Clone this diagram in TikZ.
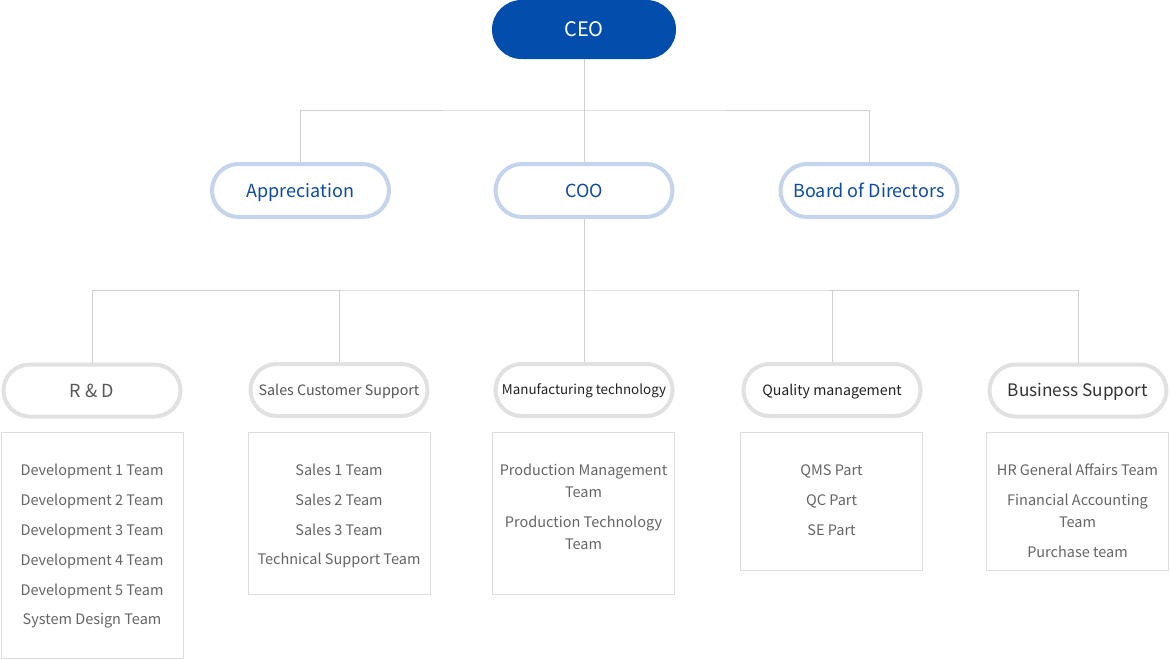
\documentclass[tikz,border=0pt]{standalone}
\usepackage{fontspec}
\setmainfont{Noto Sans CJK KR}
\definecolor{ceoblue}{RGB}{3,77,172}
\definecolor{pillblue}{RGB}{196,212,236}
\definecolor{txtblue}{RGB}{12,74,166}
\definecolor{pillgrey}{RGB}{225,225,225}
\definecolor{boxgrey}{RGB}{221,221,221}
\definecolor{linegrey}{RGB}{208,208,208}
\definecolor{itemgrey}{RGB}{100,100,100}
\begin{document}
\begin{tikzpicture}[x=1pt,y=-1pt,
  ceopill/.style={fill=ceoblue,rounded corners=29.5pt,minimum width=184pt,minimum height=59pt,inner sep=0pt,text=white,font=\fontsize{20}{24}\selectfont,text height=14.4pt,text depth=0pt},
  bluepill/.style={draw=pillblue,line width=4pt,fill=white,rounded corners=26.5pt,minimum width=177pt,minimum height=53pt,inner sep=0pt,text=txtblue,font=\fontsize{18}{22}\selectfont,text height=13pt,text depth=0pt},
  greypill/.style={draw=pillgrey,line width=4pt,fill=white,rounded corners=26pt,minimum width=177pt,minimum height=52pt,inner sep=0pt,text depth=0pt},
  listbox/.style={draw=boxgrey,line width=1pt,minimum width=182pt,inner sep=0pt},
  item/.style={text=itemgrey,align=center,inner sep=0pt,font=\fontsize{14.5}{22}\selectfont},
  conn/.style={draw=linegrey,line width=1pt}]
\useasboundingbox (0,0) rectangle (1170,659);

% top
\node[ceopill] (ceo) at (584,29.5) {CEO};
\node[bluepill] (appr) at (300.5,190.5) {Appreciation};
\node[bluepill] (coo) at (584,190.5) {COO};
\node[bluepill] (board) at (869,190.5) {Board of Directors};

% departments
\node[greypill,text={rgb,255:red,88;green,88;blue,88},font=\fontsize{18}{22}\selectfont,text height=13pt] (rd) at (92,390.5) {R \& D};
\node[greypill,text={rgb,255:red,85;green,85;blue,85},font=\fontsize{14.3}{18}\selectfont,text height=10.3pt] (sales) at (339,390) {Sales Customer Support};
\node[greypill,text={rgb,255:red,34;green,34;blue,34},font=\fontsize{13.4}{18}\selectfont,text height=9.7pt] (manu) at (584,390) {Manufacturing technology};
\node[greypill,text={rgb,255:red,34;green,34;blue,34},font=\fontsize{14.2}{18}\selectfont,text height=10.2pt] (qm) at (832,390) {Quality management};
\node[greypill,text={rgb,255:red,51;green,51;blue,51},font=\fontsize{17.2}{22}\selectfont,text height=12.4pt] (bs) at (1078,390.5) {Business Support};

% connectors
\coordinate (j1) at (584,110);
\coordinate (j2) at (584,290);
\draw[conn] (ceo.south) -- (j1);
\draw[conn] (j1) -- (coo.north);
\draw[conn] (appr.north) |- (j1) -| (board.north);
\draw[conn] (coo.south) -- (j2);
\draw[conn] (j2) -- (manu.north);
\draw[conn] (rd.north) |- (j2) -| (bs.north);
\draw[conn] (sales.north) -- (sales.north |- j2);
\draw[conn] (qm.north) -- (qm.north |- j2);

% list boxes
\node[listbox,minimum height=226pt] (rdbox) at (92,545) {};
\node[listbox,minimum height=162pt] (salesbox) at (339,513) {};
\node[listbox,minimum height=162pt] (manubox) at (583.5,513) {};
\node[listbox,minimum height=138pt] (qmbox) at (831.5,501) {};
\node[listbox,minimum height=138pt] (bsbox) at (1077.5,501) {};

% items
\foreach \t/\y [count=\i] in {Development 1 Team/471,Development 2 Team/501,Development 3 Team/531,Development 4 Team/561,Development 5 Team/591,System Design Team/621}
  \node[item] (rditem\i) at (92,\y) {\t};
\foreach \t/\y [count=\i] in {Sales 1 Team/470,Sales 2 Team/500,Sales 3 Team/530,Technical Support Team/560}
  \node[item] (salesitem\i) at (339,\y) {\t};
\node[item] (manuitem1) at (583.5,481) {Production Management\\Team};
\node[item] (manuitem2) at (583.5,533) {Production Technology\\Team};
\foreach \t/\y [count=\i] in {QMS Part/471,QC Part/501,SE Part/530}
  \node[item] (qmitem\i) at (831.5,\y) {\t};
\node[item] (bsitem1) at (1077.5,470) {HR General Affairs Team};
\node[item] (bsitem2) at (1077.5,511) {Financial Accounting\\Team};
\node[item] (bsitem3) at (1077.5,552) {Purchase team};
\end{tikzpicture}
\end{document}
